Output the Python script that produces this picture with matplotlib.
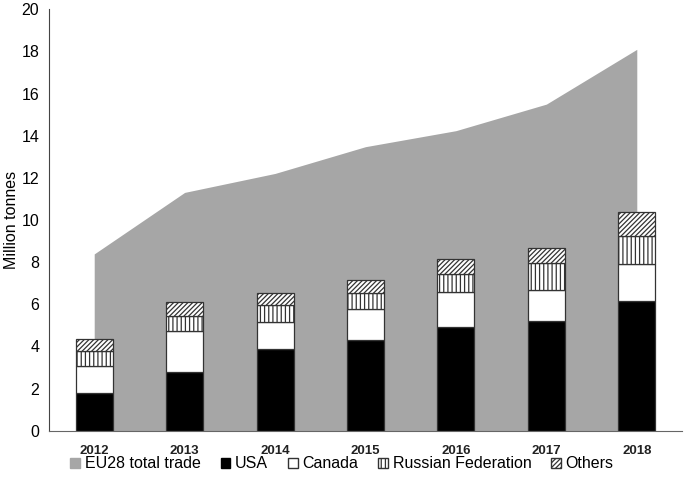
import matplotlib.pyplot as plt
import matplotlib.patches as mpatches
import numpy as np

years = ['2012', '2013', '2014', '2015', '2016', '2017', '2018']
eu28_total = [8.39, 11.31, 12.21, 13.48, 14.24, 15.50, 18.10]
usa = [1.78, 2.80, 3.88, 4.30, 4.94, 5.22, 6.17]
canada = [1.31, 1.93, 1.29, 1.46, 1.63, 1.46, 1.73]
russia = [0.69, 0.71, 0.80, 0.76, 0.87, 1.29, 1.34]
others = [0.57, 0.68, 0.58, 0.63, 0.69, 0.72, 1.13]

plt.rcParams['font.family'] = ['Liberation Sans', 'DejaVu Sans']
plt.rcParams['hatch.linewidth'] = 0.9

fig = plt.figure(figsize=(6.85, 4.84), dpi=100)
ax = fig.add_axes([49 / 685, 1 - 430.7 / 484, (682 - 49) / 685, (430.7 - 9.3) / 484])

x = np.arange(len(years))
ax.fill_between(x, 0, eu28_total, color='#a6a6a6', lw=0, zorder=1)

w = 0.41
bottom = np.zeros(len(years))
series = [
    (usa, 'black', None),
    (canada, 'white', None),
    (russia, 'white', '||||'),
    (others, 'white', '///////'),
]
for vals, col, hatch in series:
    ax.bar(x, vals, w, bottom=bottom, color=col, edgecolor='#333333',
           linewidth=0.9, hatch=hatch, zorder=2)
    bottom += np.array(vals)

ax.set_xlim(-0.5, 6.5)
ax.set_ylim(0, 20)
ax.set_yticks(range(0, 21, 2))
ax.set_xticks(x)
ax.set_xticklabels(years, fontsize=9.5, fontweight='bold', color='#222222')
ax.tick_params(axis='y', labelsize=11.5, length=0, pad=7)
ax.tick_params(axis='x', length=0, pad=10)
ax.set_ylabel('Million tonnes', fontsize=11.5, labelpad=2)
for s in ['top', 'right']:
    ax.spines[s].set_visible(False)
ax.spines['left'].set_color('#444444')
ax.spines['bottom'].set_color('#666666')

handles = [
    mpatches.Patch(facecolor='#a6a6a6', edgecolor='#a6a6a6', label='EU28 total trade'),
    mpatches.Patch(facecolor='black', edgecolor='black', label='USA'),
    mpatches.Patch(facecolor='white', edgecolor='#333333', label='Canada'),
    mpatches.Patch(facecolor='white', edgecolor='#333333', hatch='||||', label='Russian Federation'),
    mpatches.Patch(facecolor='white', edgecolor='#333333', hatch='///////', label='Others'),
]
fig.legend(handles=handles, loc='center', bbox_to_anchor=(342 / 685, 1 - 464 / 484),
           ncol=5, frameon=False, fontsize=11.5, handlelength=0.6, handleheight=0.6,
           handletextpad=0.3, columnspacing=1.25)

fig.savefig('out.png', dpi=100)
